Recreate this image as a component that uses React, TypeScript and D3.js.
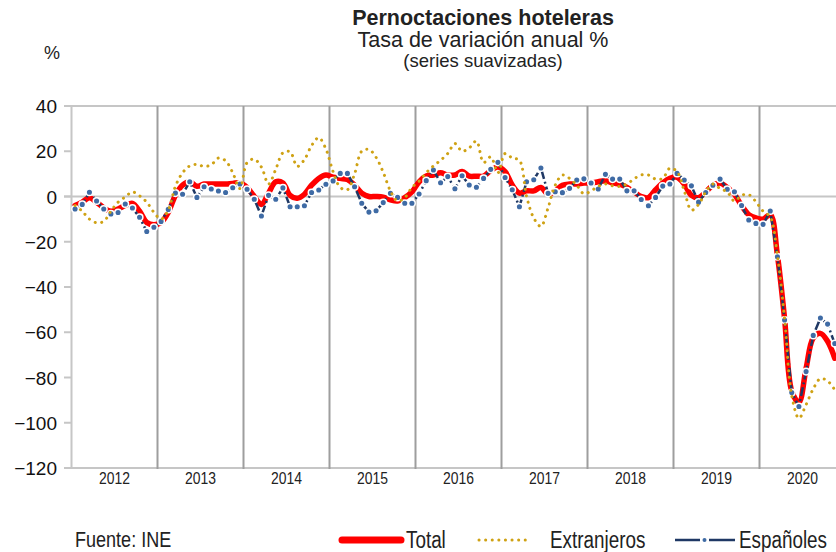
import React from "react";
import * as d3 from "d3";

// monthly data, Jan 2012 .. Nov 2020
const years = ["2012", "2013", "2014", "2015", "2016", "2017", "2018", "2019", "2020"];

const total = [
  -4, -2.5, -0.5, -2.5, -5, -6.5, -5.5, -4, -3, -6.5, -11.5, -12.5,
  -11.5, -7, 0.5, 5, 6.5, 4.5, 5.5, 5.5, 5.5, 5.5, 5.8, 6,
  4, 0, -3.5, 1.5, 6.5, 6, 0.5, -0.8, 1, 5, 8, 9.5,
  8.5, 8, 7.5, 5, 1.5, 0, 0, -0.3, -1.5, -2, -0.5, 2,
  6.5, 9, 9.5, 10.5, 9.5, 9.5, 11, 9, 9, 9, 11.5, 13,
  11, 5, 1.5, 2.5, 2.5, 4, 1, 2.5, 5, 5.5, 5.5, 6,
  6, 6.5, 7, 6, 5.5, 4, 2, 0, -0.5, 3, 6, 8,
  8.5, 5.5, 0.5, -0.5, 2, 5, 6, 4, 1, -4, -8, -9.5,
  -10, -8, -26, -54, -86, -91, -76, -62.5, -60.5, -64, -71.5,
];

const extranjeros = [
  -4, -6.5, -10, -11.6, -11, -6.5, -2.5, -0.2, 2, 0.3, -2.5, -7,
  -10, -6, 4.5, 10.5, 13.5, 14.2, 13.3, 14, 17, 15.8, 10.5, 3.5,
  15, 16.5, 13, 5.5, 12, 19.3, 19.8, 13.3, 16.3, 22.5, 26, 21,
  11, 4, 3, 10, 20, 20.8, 17.3, 10.7, 2.5, -2, -0.5, 4,
  6.8, 10.5, 13.5, 16, 19, 23.4, 20, 21.5, 24.5, 15, 17.5, 10.5,
  19, 17, 16, 0, -9.5, -13.2, -5, 5, 9.5, 8, 5, 1.2,
  2.5, 4.5, 5.5, 4.7, 4.5, 5.5, 7.8, 9.5, 9.5, 7.7, 8, 12.5,
  11, 2.5, -6, -3.5, 2, 5.5, 3.5, 2, -2, 0.5, 0.8, -2.3,
  -6.5, -9, -26, -54, -88, -98, -92, -85, -80.5, -81.5, -85.5,
];

const espanoles = [
  -5.5, -3.5, 1.9, -2, -5.5, -7.7, -7.1, -3.3, -5.1, -9.2, -15.5, -13.6,
  -11, -5.7, 1.5, 1, 6.5, -0.4, 4.3, 3.3, 2.4, 1.8, 3.9, 5.5,
  3.2, -1.2, -8.6, 0.5, -1.2, 3.8, -4.5, -4.5, -4.1, 1.8, 2.9, 5.4,
  6.9, 10.2, 10.2, 4.3, -3, -6.9, -6.3, -2.7, 1.4, -0.4, -3, -3,
  1.1, 7, 11.7, 6.1, 8.8, 3.4, 9.2, 5.1, 4.1, 8, 12, 15.1,
  8.4, 3, -4.5, 6.5, 7.4, 12.6, 1.4, 2.1, 1.7, 3.6, 7.3, 7.8,
  6, 3.3, 9.8, 7.7, 7.7, 2.5, 2.5, -1.3, -4.1, -0.4, 4.6, 5.5,
  10.2, 7.3, 4.7, -2.5, 1.8, 5, 7.7, 3.2, 2.1, -4, -10.4, -11.9,
  -12.3, -6.4, -26.6, -54.6, -86.6, -92.8, -77.4, -61.4, -53.7, -56.4, -65,
];

const yTicks = [40, 20, 0, -20, -40, -60, -80, -100, -120];

const RED = "#ff0000";
const GOLD = "#cfa214";
const NAVY = "#1f3864";
const DOT = "#3f6ba5";
const SANS = "'Liberation Sans', Arial, sans-serif";

// condensed text: no narrow face installed, so squeeze horizontally
const Narrow = ({ x, y, size, anchor = "start", children }: any) => (
  <text
    transform={`translate(${x},${y}) scale(0.82,1)`}
    textAnchor={anchor}
    fontFamily={SANS}
    fontSize={size}
    fill="#222"
  >
    {children}
  </text>
);

export default function App() {
  const months = years.flatMap(yr => d3.range(12).map(m => `${yr}-${m + 1}`));
  const xYear = d3.scaleBand().domain(years).range([71.5, 71.5 + 86 * years.length]);
  const x = d3.scaleBand().domain(months).range(xYear.range() as [number, number]);
  const y = d3.scaleLinear().domain([-120, 40]).range([468, 106]);

  const px = (i: number) => (x(months[i]) as number) + x.bandwidth() / 2;

  const smooth = d3
    .line<number>()
    .x((d, i) => px(i))
    .y(d => y(d))
    .curve(d3.curveCatmullRom.alpha(0.5));

  const straight = d3
    .line<number>()
    .x((d, i) => px(i))
    .y(d => y(d));

  const left = 71.5;
  const right = 836;

  return (
    <svg
      width={836}
      height={552}
      style={{ position: "absolute", left: 0, top: 0, background: "#fff" }}
    >
      {/* titles */}
      <text x={483} y={25} textAnchor="middle" fontFamily={SANS} fontWeight="bold" fontSize={21.5} fill="#222">
        Pernoctaciones hoteleras
      </text>
      <text x={483} y={47} textAnchor="middle" fontFamily={SANS} fontSize={21.5} fill="#222">
        Tasa de variación anual %
      </text>
      <text x={483} y={67} textAnchor="middle" fontFamily={SANS} fontSize={18.5} fill="#222">
        (series suavizadas)
      </text>
      <text x={52} y={59} textAnchor="middle" fontFamily={SANS} fontSize={18} fill="#222">
        %
      </text>

      {/* horizontal lines */}
      {[40, 0, -120].map(v => (
        <line key={v} x1={64} x2={right} y1={y(v)} y2={y(v)} stroke="#c6c6c6" strokeWidth={2} />
      ))}

      {/* year separators */}
      {years.slice(1).map(yr => (
        <line
          key={yr}
          x1={xYear(yr)}
          x2={xYear(yr)}
          y1={y(40)}
          y2={y(-120) + 1}
          stroke="#9e9e9e"
          strokeWidth={2}
        />
      ))}

      {/* y axis */}
      <line x1={left} x2={left} y1={y(40)} y2={y(-120)} stroke="#c6c6c6" strokeWidth={2} />
      {yTicks.map(v => (
        <g key={v}>
          <line x1={64} x2={left} y1={y(v)} y2={y(v)} stroke="#c6c6c6" strokeWidth={2} />
          <text x={57} y={y(v) + 7} textAnchor="end" fontFamily={SANS} fontSize={19} fill="#111">
            {v < 0 ? `\u2212${Math.abs(v)}` : v}
          </text>
        </g>
      ))}

      {/* year labels */}
      {years.map(yr => (
        <Narrow key={yr} x={(xYear(yr) as number) + xYear.bandwidth() / 2} y={484} size={17} anchor="middle">
          {yr}
        </Narrow>
      ))}

      {/* series */}
      <path d={smooth(total) || ""} fill="none" stroke={RED} strokeWidth={5.5} strokeLinejoin="round" strokeLinecap="round" />
      <path
        d={straight(espanoles) || ""}
        fill="none"
        stroke={NAVY}
        strokeWidth={2.5}
        strokeDasharray="9 3 2 3"
        strokeLinejoin="round"
      />
      {espanoles.map((d, i) => (
        <circle key={i} cx={px(i)} cy={y(d)} r={3.3} fill={DOT} stroke="#fff" strokeWidth={1.5} />
      ))}
      <path
        d={smooth(extranjeros) || ""}
        fill="none"
        stroke={GOLD}
        strokeWidth={3}
        strokeDasharray="0.1 6.5"
        strokeLinecap="round"
      />

      {/* legend */}
      <line x1={342} x2={401} y1={540} y2={540} stroke={RED} strokeWidth={7} strokeLinecap="round" />
      <Narrow x={406} y={548} size={23}>Total</Narrow>
      <line x1={479} x2={530} y1={540} y2={540} stroke={GOLD} strokeWidth={3} strokeDasharray="0.1 6.5" strokeLinecap="round" />
      <Narrow x={550} y={548} size={23}>Extranjeros</Narrow>
      <line x1={675} x2={700} y1={540} y2={540} stroke={NAVY} strokeWidth={2.5} />
      <line x1={709} x2={735} y1={540} y2={540} stroke={NAVY} strokeWidth={2.5} />
      <circle cx={704.5} cy={540} r={2} fill={DOT} />
      <Narrow x={739} y={548} size={23}>Españoles</Narrow>

      <Narrow x={75} y={547} size={22}>Fuente: INE</Narrow>
    </svg>
  );
}
